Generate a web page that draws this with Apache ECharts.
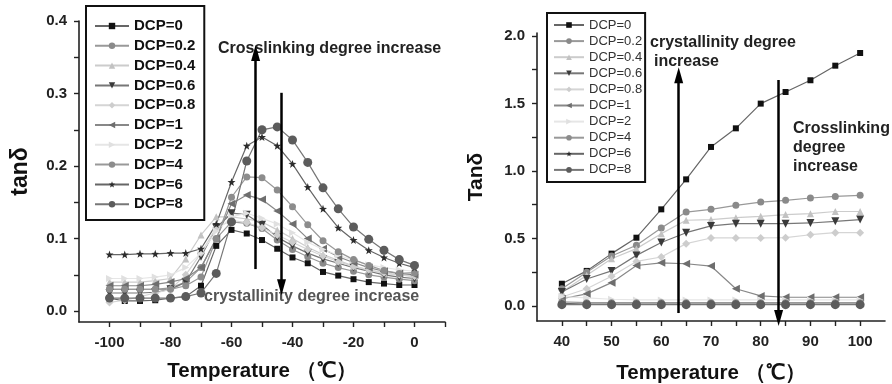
<!DOCTYPE html>
<html><head><meta charset="utf-8">
<script src="https://cdn.jsdelivr.net/npm/echarts@6/dist/echarts.min.js"></script>
<style>html,body{margin:0;padding:0;background:#fff}#c{width:892px;height:384px}</style>
</head><body><div id="c"></div>
<script>
var names = ['DCP=0','DCP=0.2','DCP=0.4','DCP=0.6','DCP=0.8','DCP=1','DCP=2','DCP=4','DCP=6','DCP=8'];
var leftX = [-100,-95,-90,-85,-80,-75,-70,-65,-60,-55,-50,-45,-40,-35,-30,-25,-20,-15,-10,-5,0];
var left0  = [0.018,0.014,0.014,0.015,0.018,0.02,0.035,0.09,0.112,0.107,0.098,0.086,0.074,0.066,0.054,0.049,0.044,0.04,0.038,0.036,0.036];
var left02 = [0.03,0.03,0.03,0.03,0.032,0.04,0.06,0.1,0.123,0.121,0.114,0.098,0.085,0.075,0.066,0.06,0.055,0.05,0.047,0.044,0.042];
var left04 = [0.04,0.04,0.04,0.042,0.045,0.072,0.105,0.13,0.13,0.127,0.123,0.112,0.1,0.088,0.078,0.07,0.062,0.057,0.052,0.05,0.048];
var left06 = [0.025,0.025,0.025,0.026,0.03,0.04,0.075,0.115,0.135,0.133,0.119,0.102,0.09,0.08,0.072,0.066,0.06,0.055,0.05,0.047,0.045];
var left08 = [0.012,0.015,0.02,0.025,0.03,0.05,0.08,0.115,0.125,0.122,0.115,0.105,0.095,0.085,0.076,0.068,0.062,0.057,0.053,0.05,0.048];
var left1  = [0.035,0.035,0.035,0.037,0.04,0.045,0.06,0.1,0.148,0.16,0.154,0.138,0.12,0.1,0.086,0.075,0.067,0.06,0.055,0.052,0.05];
var left2  = [0.045,0.045,0.045,0.047,0.05,0.06,0.08,0.11,0.13,0.135,0.128,0.12,0.108,0.095,0.085,0.077,0.07,0.064,0.06,0.057,0.055];
var left4  = [0.03,0.03,0.03,0.03,0.03,0.035,0.047,0.099,0.157,0.185,0.184,0.167,0.144,0.119,0.097,0.082,0.071,0.063,0.056,0.052,0.053];
var left6  = [0.078,0.078,0.079,0.079,0.08,0.08,0.086,0.12,0.178,0.228,0.24,0.228,0.203,0.171,0.141,0.115,0.098,0.084,0.074,0.066,0.06];
var left8  = [0.018,0.018,0.018,0.018,0.018,0.02,0.025,0.052,0.123,0.207,0.25,0.254,0.236,0.205,0.17,0.141,0.116,0.099,0.084,0.071,0.063];

var rightX = [40,45,50,55,60,65,70,75,80,85,90,95,100];
var right0  = [0.165,0.26,0.388,0.506,0.716,0.938,1.178,1.316,1.499,1.585,1.672,1.78,1.874];
var right02 = [0.128,0.25,0.37,0.45,0.578,0.696,0.716,0.746,0.77,0.783,0.8,0.812,0.82];
var right04 = [0.104,0.227,0.35,0.425,0.536,0.635,0.64,0.654,0.664,0.677,0.684,0.7,0.7];
var right06 = [0.104,0.2,0.26,0.375,0.47,0.543,0.593,0.61,0.61,0.61,0.615,0.627,0.64];
var right08 = [0.067,0.128,0.22,0.33,0.363,0.462,0.504,0.504,0.504,0.506,0.528,0.543,0.543];
var right1  = [0.054,0.09,0.173,0.3,0.32,0.313,0.296,0.128,0.075,0.065,0.065,0.065,0.065];
var right2  = [0.07,0.06,0.05,0.045,0.045,0.045,0.045,0.045,0.045,0.045,0.045,0.045,0.045];
var right4  = [0.03,0.025,0.025,0.025,0.025,0.025,0.025,0.025,0.025,0.025,0.025,0.025,0.025];
var right6  = [0.02,0.015,0.015,0.015,0.015,0.015,0.015,0.015,0.015,0.015,0.015,0.015,0.015];
var right8  = [0.01,0.01,0.01,0.01,0.01,0.01,0.01,0.01,0.01,0.01,0.01,0.01,0.01];

var leftTicksX = [-100,-90,-80,-70,-60,-50,-40,-30,-20,-10,0,10];
var leftLabelsX = [-100,-80,-60,-40,-20,0];
var leftTicksY = [0,0.05,0.1,0.15,0.2,0.25,0.3,0.35,0.4];
var leftLabelsY = [0,0.1,0.2,0.3,0.4];
var rightTicksX = [40,45,50,55,60,65,70,75,80,85,90,95,100];
var rightLabelsX = [40,50,60,70,80,90,100];
var rightTicksY = [0,0.25,0.5,0.75,1,1.25,1.5,1.75,2];
var rightLabelsY = [0,0.5,1,1.5,2];

var leftSets = [left0,left02,left04,left06,left08,left1,left2,left4,left6,left8];
var rightSets = [right0,right02,right04,right06,right08,right1,right2,right4,right6,right8];

var colors = ['#111111','#8a8a8a','#c2c2c2','#3a3a3a','#cdcdcd','#6e6e6e','#e0e0e0','#8c8c8c','#2c2c2c','#5c5c5c'];
var lineColors = ['#666','#999','#ccc','#777','#d5d5d5','#888','#e6e6e6','#999','#666','#777'];
var STAR = 'path://M0,-10L2.35,-3.24L9.51,-3.09L3.8,1.24L5.88,8.09L0,4L-5.88,8.09L-3.8,1.24L-9.51,-3.09L-2.35,-3.24Z';
var symbols = ['rect','circle','triangle','path://M0,0L10,0L5,9Z','diamond','path://M0,5L9,0L9,10Z','path://M9,5L0,0L0,10Z','circle',STAR,'circle'];
var sizes = [6,7,7,8,8,8,7,7,8,9];

var FONT = '"Liberation Sans", Arial, sans-serif';

function mk(xs, ys){ return xs.map(function(x,i){ return [x, ys[i]]; }); }

var series = [];
function addSeries(sets, xs, gi){
  sets.forEach(function(ys, k){
    series.push({
      name: names[k], type: 'line', xAxisIndex: gi, yAxisIndex: gi,
      data: mk(xs, ys), symbol: symbols[k], symbolSize: sizes[k],
      itemStyle: {color: colors[k]},
      lineStyle: {color: lineColors[k], width: 1.2},
      z: 3, animation: false, silent: true
    });
  });
}
addSeries(leftSets, leftX, 0);
addSeries(rightSets, rightX, 1);

var arrowStyle = {color:'#000', width: 2.5, type:'solid'};
series[0].markLine = {
  silent: true, animation: false, symbol: ['none','triangle'], symbolSize: [9,16],
  label: {show:false}, lineStyle: arrowStyle,
  data: [
    [{coord:[-52.1,0.058]},{coord:[-52.1,0.356]}],
    [{coord:[-43.6,0.301]},{coord:[-43.6,0.033]}]
  ]
};
series[10].markLine = {
  silent: true, animation: false, symbol: ['none','triangle'], symbolSize: [9,16],
  label: {show:false}, lineStyle: arrowStyle,
  data: [
    [{coord:[63.5,-0.052]},{coord:[63.5,1.71]}],
    [{coord:[83.6,1.674]},{coord:[83.6,-0.089]}]
  ]
};

function axisCommon(){
  return {
    axisLine: {show:true, onZero:false, lineStyle:{color:'#222', width:1.6}},
    axisTick: {show:true, inside:false, length:5, lineStyle:{color:'#222', width:1.4}},
    splitLine: {show:false},
    nameTextStyle: {fontFamily: FONT, fontWeight:'bold', fontSize: 20.5, color:'#111'}
  };
}

function xAx(gi, min, max, ticks, labels, gap){
  var a = axisCommon();
  a.type = 'value'; a.gridIndex = gi; a.min = min; a.max = max;
  a.axisTick.customValues = ticks;
  a.axisLabel = {customValues: labels, fontFamily: FONT, fontWeight:'bold', fontSize: 15, color:'#222', margin: 13,
    formatter: function(v){ return String(v); }};
  a.name = 'Temperature （℃）'; a.nameLocation = 'middle'; a.nameGap = gap;
  return a;
}
function yAx(gi, min, max, ticks, labels, name, gap, fs){
  var a = axisCommon();
  a.type = 'value'; a.gridIndex = gi; a.min = min; a.max = max;
  a.axisTick.customValues = ticks;
  a.axisLabel = {customValues: labels, fontFamily: FONT, fontWeight:'bold', fontSize: 15, color:'#222', margin: 12,
    formatter: function(v){ return v.toFixed(1); }};
  a.name = name; a.nameLocation = 'middle'; a.nameRotate = 90; a.nameGap = gap;
  a.nameTextStyle.fontSize = fs;
  return a;
}

var option = {
  backgroundColor: '#fff',
  animation: false,
  textStyle: {fontFamily: FONT},
  grid: [
    {left: 79, top: 21, width: 366, height: 301, containLabel: false, outerBoundsMode: 'none'},
    {left: 537, top: 33, width: 348, height: 288, containLabel: false, outerBoundsMode: 'none'}
  ],
  xAxis: [
    xAx(0, -110, 10, leftTicksX, leftLabelsX, 39),
    xAx(1, 35, 105, rightTicksX, rightLabelsX, 42)
  ],
  yAxis: [
    yAx(0, -0.015, 0.4, leftTicksY, leftLabelsY, 'tanδ', 47, 23),
    yAx(1, -0.111, 2.022, rightTicksY, rightLabelsY, 'Tanδ', 50, 21)
  ],
  legend: [
    {
      data: names, orient: 'vertical', left: 86, top: 6,
      padding: [12.5, 9, 8.3, 8], itemGap: 4.8, itemWidth: 34, itemHeight: 8,
      borderColor: '#111', borderWidth: 2, backgroundColor: '#fff',
      selectedMode: false,
      textStyle: {fontFamily: FONT, fontWeight: 'bold', fontSize: 15, color: '#111', lineHeight: 15}
    },
    {
      data: names, orient: 'vertical', left: 547, top: 13,
      padding: [5.5, 3, 5.5, 6], itemGap: 3.1, itemWidth: 30, itemHeight: 7,
      borderColor: '#111', borderWidth: 2, backgroundColor: '#fff',
      selectedMode: false,
      textStyle: {fontFamily: FONT, fontSize: 13, color: '#333', lineHeight: 13}
    }
  ],
  graphic: [
    {type:'text', left: 218, top: 41, style:{text:'Crosslinking degree increase', font:'bold 16px ' + FONT, fill:'#222'}},
    {type:'text', left: 204, top: 289, style:{text:'crystallinity degree increase', font:'bold 16px ' + FONT, fill:'#555'}},
    {type:'text', left: 650, top: 35, style:{text:'crystallinity degree', font:'bold 16px ' + FONT, fill:'#222'}},
    {type:'text', left: 654, top: 54, style:{text:'increase', font:'bold 16px ' + FONT, fill:'#222'}},
    {type:'text', left: 793, top: 119, style:{text:'Crosslinking\ndegree\nincrease', font:'bold 16px ' + FONT, fill:'#222', lineHeight: 19}}
  ],
  series: series
};

var chart = echarts.init(document.getElementById('c'), null, {renderer:'canvas'});
chart.setOption(option);
</script>
</body></html>
